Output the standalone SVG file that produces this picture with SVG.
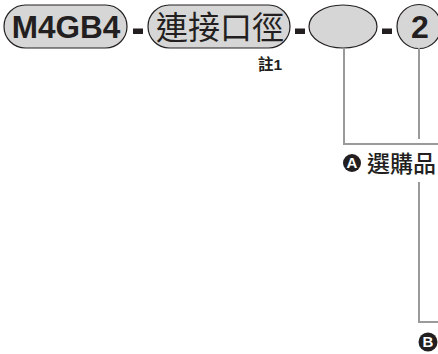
<svg xmlns="http://www.w3.org/2000/svg" width="438" height="354" viewBox="0 0 438 354">
<style>
.pill{fill:#d6d6d6;stroke:#231f20;stroke-width:1.2}
.dash{fill:#231f20}
.lat{font-family:"Liberation Sans",Arial,sans-serif;font-weight:bold;fill:#231f20}
.cjk{font-family:"Liberation Sans","Noto Sans CJK TC",sans-serif;fill:#231f20}
.conn{fill:none;stroke:#9a9a9a;stroke-width:2}
.badge{fill:#231f20}
.badgeT{font-family:"Liberation Sans",Arial,sans-serif;font-weight:bold;fill:#ffffff;font-size:15px}
</style>
<rect width="438" height="354" fill="#ffffff"/>
<g id="node-model">
<rect class="pill" x="4" y="5" width="123" height="43" rx="21.5" ry="21.5"/>
<text class="lat" x="66" y="38" font-size="31.5" text-anchor="middle">M4GB4</text>
</g>
<g id="node-port">
<rect class="pill" x="148" y="5" width="142" height="43" rx="21.5" ry="21.5"/>
<text class="cjk" x="220" y="38.5" font-size="32" text-anchor="middle">連接口徑</text>
<text class="cjk" x="270" y="70" font-size="15.5" font-weight="bold" text-anchor="middle">註1</text>
</g>
<g id="node-option">
<ellipse class="pill" cx="343" cy="26.5" rx="34" ry="21.5"/>
</g>
<g id="node-two">
<circle class="pill" cx="419" cy="26.5" r="22"/>
<text class="lat" x="420" y="38" font-size="32" text-anchor="middle">2</text>
</g>
<g id="dashes">
<rect class="dash" x="133" y="28.5" width="10" height="5.5"/>
<rect class="dash" x="295" y="28.5" width="10" height="5.5"/>
<rect class="dash" x="382" y="28.5" width="10" height="5.5"/>
</g>
<g id="connectors">
<polyline class="conn" points="344,48 344,144 440,144"/>
<line class="conn" x1="419" y1="48" x2="419" y2="139"/>
<polyline class="conn" points="419,182 419,322 440,322"/>
</g>
<g id="node-A">
<circle class="badge" cx="352" cy="163" r="9"/>
<text class="badgeT" x="352" y="168.3" text-anchor="middle">A</text>
<text class="cjk" x="367" y="172" font-size="23" font-weight="500">選購品</text>
</g>
<g id="node-B">
<circle class="badge" cx="428" cy="342" r="9.5"/>
<text class="badgeT" x="428" y="347.3" text-anchor="middle">B</text>
</g>
</svg>
